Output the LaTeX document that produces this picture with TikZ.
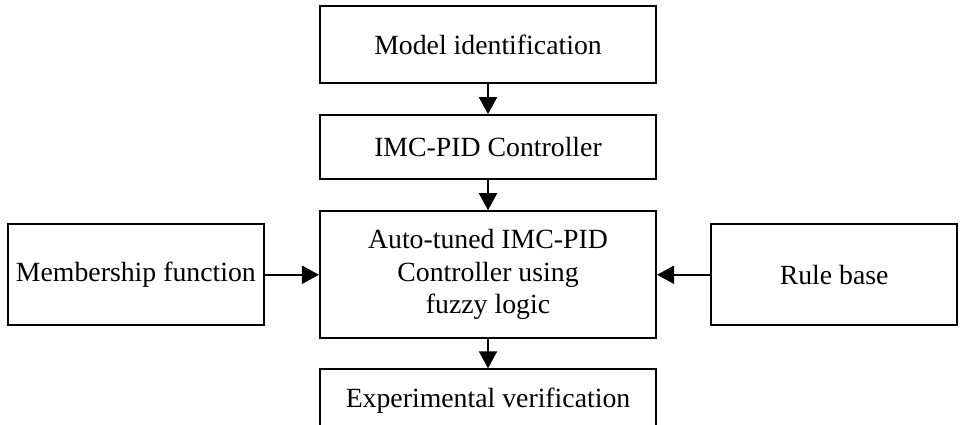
\documentclass[tikz,border=0pt]{standalone}
\usepackage{fontspec}
\setmainfont{Liberation Serif}
\usepackage{tikz}
\usetikzlibrary{shapes,arrows,arrows.meta,positioning}
\usepackage{xcolor}

\begin{document}
\begin{tikzpicture}[node distance=0.6cm, auto]
    % Define styles
    \tikzstyle{block} = [rectangle, minimum width=6.72cm, text centered, draw=black, line width=1.2pt, align=center, font=\fontsize{15.8}{18.5}\selectfont]
    \tikzstyle{side} = [rectangle, minimum height=2.02cm, text centered, draw=black, line width=1.2pt, font=\fontsize{15.8}{18.5}\selectfont]
    \tikzstyle{arrow} = [line width=1.2pt,-{Triangle[width=0.36cm,length=0.34cm]}]

    \useasboundingbox (0,0) rectangle (19.2,-8.5);

    % Middle column
    \node [block, minimum height=1.54cm, anchor=north] (model) at (9.76,-0.1) {Model identification};
    \node [block, minimum height=1.28cm, below=of model] (imc) {IMC-PID Controller};
    \node [block, minimum height=2.54cm, below=of imc] (fuzzy) {Auto-tuned IMC-PID\\ Controller using\\ fuzzy logic};
    \node [block, minimum height=1.24cm, below=0.58cm of fuzzy] (verify) {Experimental verification};

    % Side inputs
    \node [side, minimum width=5.12cm, left=1.08cm of fuzzy] (member) {Membership function};
    \node [side, minimum width=4.92cm, right=1.06cm of fuzzy] (rules) {Rule base};

    % Arrows
    \draw [arrow] (model) -- (imc);
    \draw [arrow] (imc) -- (fuzzy);
    \draw [arrow] (fuzzy) -- (verify);
    \draw [arrow] (member) -- (fuzzy);
    \draw [arrow] (rules) -- (fuzzy);

\end{tikzpicture}
\end{document}
